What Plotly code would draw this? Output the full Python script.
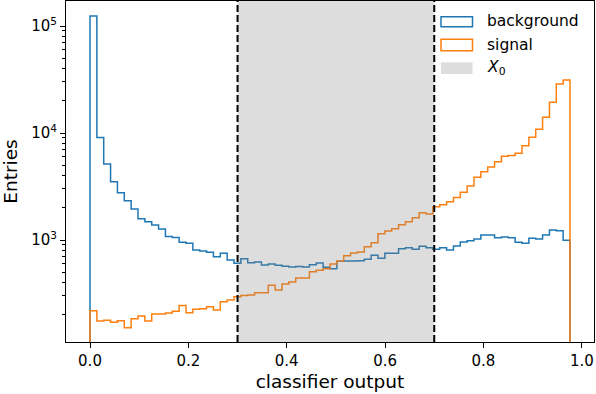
import numpy as np
import plotly.graph_objects as go

# ---- data -------------------------------------------------------------
n_bins = 70
x_min, x_max = 0.0, 0.976
background = [124000, 9100, 5130, 3510, 2770, 2330, 1950, 1580, 1480, 1380,
              1270, 1080, 1055, 955, 931, 807, 789, 767, 699, 750,
              650, 605, 668, 614, 623, 584, 597, 580, 567, 559,
              564, 559, 588, 610, 556, 540, 632, 637, 637, 641,
              660, 719, 674, 750, 750, 830, 848, 818, 873, 848,
              818, 848, 807, 879, 958, 986, 1022, 1113, 1113, 1050,
              1067, 1050, 951, 931, 1037, 1022, 1113, 1240, 1221, 993]
signal = [218, 175, 178, 170, 176, 151, 184, 195, 175, 203,
          203, 208, 216, 244, 209, 225, 228, 238, 222, 265,
          275, 295, 303, 306, 322, 322, 377, 341, 388, 405,
          441, 441, 506, 521, 540, 597, 637, 713, 756, 772,
          866, 944, 1146, 1214, 1275, 1391, 1483, 1616, 1799, 1749,
          2047, 2140, 2280, 2500, 2800, 3200, 3860, 4350, 4800, 5394,
          6050, 6150, 6450, 7607, 9120, 10840, 14030, 19370, 28700, 31270]
x0_lo, x0_hi = 0.3, 0.7
x_ticks = [0.0, 0.2, 0.4, 0.6, 0.8, 1.0]
x_ticklabels = ["0.0", "0.2", "0.4", "0.6", "0.8", "1.0"]
y_ticks = [1e3, 1e4, 1e5]
y_ticklabels = ["10<sup>3</sup>", "10<sup>4</sup>", "10<sup>5</sup>"]

edges = np.linspace(x_min, x_max, n_bins + 1)

# ---- geometry ---------------------------------------------------------
W, H = 596, 394
ML, MR, MT, MB = 66, 2, 1, 52
PW, PH = W - ML - MR, H - MT - MB
FONT = "DejaVu Sans"


def px(xp):
    return (xp - ML) / PW


def py(yp):
    return (H - MB - yp) / PH


def step_xy(vals):
    low = 1.0
    xs = [edges[0]] + list(edges[:-1]) + [edges[-1], edges[-1]]
    ys = [low] + list(vals) + [vals[-1], low]
    return xs, ys


fig = go.Figure()
for vals, col, name in [(background, "#1f77b4", "background"),
                        (signal, "#ff7f0e", "signal")]:
    xs, ys = step_xy(vals)
    fig.add_trace(go.Scatter(x=xs, y=ys, mode="lines", name=name,
                             line=dict(color=col, width=1.5, shape="hv"),
                             showlegend=False, hoverinfo="skip"))

shapes = []
# grey band X0 (drawn above the histograms, semi-transparent)
shapes.append(dict(type="rect", xref="x", yref="paper", x0=x0_lo, x1=x0_hi,
                   y0=0, y1=1, fillcolor="#808080", opacity=0.27,
                   line=dict(width=0), layer="above"))
for xv in (x0_lo, x0_hi):
    shapes.append(dict(type="line", xref="x", yref="paper", x0=xv, x1=xv,
                       y0=0, y1=1, line=dict(color="black", width=2,
                                             dash="7px,3px"),
                       layer="above"))

# manual legend (no frame)
patches = [(16.7, 26.7, "#1f77b4", None), (39.3, 50.7, "#ff7f0e", None),
           (62.3, 74.0, None, "#808080")]
for (t, b, lc, fc) in patches:
    if fc is None:
        shapes.append(dict(type="rect", xref="paper", yref="paper",
                           x0=px(441), x1=px(472.5), y0=py(b), y1=py(t),
                           line=dict(color=lc, width=1.5),
                           fillcolor="rgba(0,0,0,0)", layer="above"))
    else:
        shapes.append(dict(type="rect", xref="paper", yref="paper",
                           x0=px(441), x1=px(472.5), y0=py(b), y1=py(t),
                           line=dict(width=0), fillcolor=fc, opacity=0.27,
                           layer="above"))

annotations = []
for txt, yc in [("background", 21.5), ("signal", 44.5),
                ("<i>X</i><sub>0</sub>", 68)]:
    annotations.append(dict(xref="paper", yref="paper", x=px(485),
                            y=py(yc), text=txt, showarrow=False,
                            xanchor="left", yanchor="middle",
                            font=dict(family=FONT, size=15.5, color="black")))

fig.update_layout(
    width=W, height=H,
    margin=dict(l=ML, r=MR, t=MT, b=MB, pad=0),
    paper_bgcolor="white", plot_bgcolor="white",
    font=dict(family=FONT, size=15, color="black"),
    shapes=shapes, annotations=annotations, showlegend=False,
    xaxis=dict(range=[-0.0488, 1.0248], showline=True, linecolor="black",
               linewidth=1, mirror=True, ticks="outside", ticklen=5,
               tickwidth=1, tickcolor="black", tickvals=x_ticks,
               ticktext=x_ticklabels, showgrid=False, zeroline=False,
               automargin=False,
               tickfont=dict(family=FONT, size=15),
               title=dict(text="classifier output", standoff=6,
                          font=dict(family=FONT, size=18.5))),
    yaxis=dict(type="log", range=[2.0467, 5.2336], showline=True,
               linecolor="black", linewidth=1, mirror=True, ticks="outside",
               ticklen=5, tickwidth=1, tickcolor="black", tickvals=y_ticks,
               ticktext=y_ticklabels, showgrid=False, zeroline=False,
               automargin=False,
               tickfont=dict(family=FONT, size=15),
               minor=dict(ticks="outside", ticklen=2.8, tickwidth=0.8,
                          tickcolor="black", tickmode="array",
                          tickvals=[200, 300, 400, 500, 600, 700, 800, 900,
                                    2000, 3000, 4000, 5000, 6000, 7000, 8000,
                                    9000, 20000, 30000, 40000, 50000, 60000,
                                    70000, 80000, 90000], showgrid=False),
               title=dict(text="Entries", standoff=8,
                          font=dict(family=FONT, size=18.5))),
)

fig.write_html("out.html",
               config={"displayModeBar": False},
               post_script="document.body.style.margin='0px';"
                           "document.body.style.overflow='hidden';")
